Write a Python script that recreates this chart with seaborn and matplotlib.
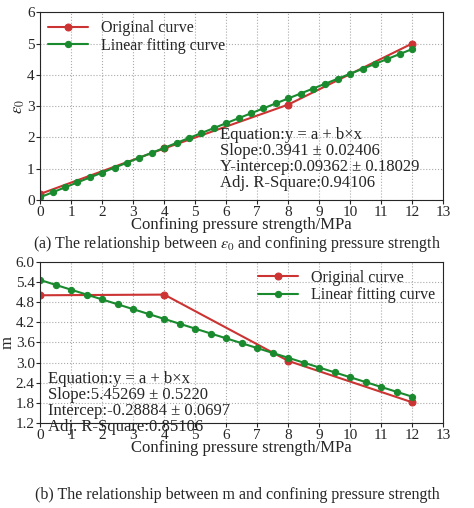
import matplotlib
matplotlib.use("Agg")
import matplotlib.pyplot as plt
import seaborn as sns
import pandas as pd

sns.set_style("ticks")
plt.rcParams['font.family'] = ['Liberation Serif', 'DejaVu Serif']
plt.rcParams['mathtext.fontset'] = 'stix'

orig_x = [0, 4, 8, 12]
orig_eps = [0.2, 1.65, 3.05, 5.0]
orig_m = [5.0, 5.02, 3.05, 1.82]

fit1_x = [0,0.4,0.8,1.2,1.6,2.0,2.4,2.8,3.2,3.6,4.0,4.4,4.8,5.2,5.6,6.0,6.4,6.8,7.2,7.6,8.0,8.4,8.8,9.2,9.6,10.0,10.4,10.8,11.2,11.6,12.0]
fit1_y = [0.094,0.251,0.409,0.567,0.724,0.882,1.040,1.197,1.355,1.512,1.670,1.828,1.985,2.143,2.300,2.458,2.616,2.773,2.931,3.089,3.246,3.404,3.562,3.719,3.877,4.035,4.192,4.350,4.507,4.665,4.823]
fit2_x = [0,0.5,1,1.5,2,2.5,3,3.5,4,4.5,5,5.5,6,6.5,7,7.5,8,8.5,9,9.5,10,10.5,11,11.5,12]
fit2_y = [5.453,5.308,5.164,5.019,4.875,4.731,4.586,4.442,4.297,4.153,4.008,3.864,3.720,3.575,3.431,3.286,3.142,2.998,2.853,2.709,2.564,2.420,2.275,2.131,1.987]

RED = '#cc3333'
GREEN = '#1a8a2e'

fig = plt.figure(figsize=(4.74, 5.08), dpi=100)
ax1 = fig.add_axes([0.085, 0.606, 0.850, 0.370])
ax2 = fig.add_axes([0.085, 0.167, 0.850, 0.318])

def draw(ax, oy, fx, fy, ylim, yticks, ylabel, legloc, text, tx, ty, caption, cy):
    sns.lineplot(x=orig_x, y=oy, ax=ax, color=RED, marker='o', markersize=5, lw=1.5,
                 markeredgecolor=RED, label='Original curve')
    sns.lineplot(x=fx, y=fy, ax=ax, color=GREEN, marker='o', markersize=4.5, lw=1.5,
                 markeredgecolor=GREEN, label='Linear fitting curve')
    ax.set_xlim(0, 13)
    ax.set_ylim(*ylim)
    ax.set_xticks(range(0, 14))
    ax.set_yticks(yticks)
    ax.grid(True, linestyle=':', color='#aaaaaa', lw=0.8)
    ax.tick_params(labelsize=11, length=3, direction='out', pad=1)
    ax.set_xlabel('Confining pressure strength/MPa', fontsize=12, labelpad=-1)
    ax.set_ylabel(ylabel, fontsize=12, labelpad=0)
    ax.legend(loc=legloc, fontsize=11.5, frameon=False, handlelength=2.5,
              borderaxespad=0.1, labelspacing=0.1)
    ax.text(tx, ty, text, transform=ax.transAxes, fontsize=12, va='top', linespacing=1.0)
    fig.text(0.5, cy, caption, ha='center', fontsize=11.5)

draw(ax1, orig_eps, fit1_x, fit1_y, (0, 6), [0,1,2,3,4,5,6], r'$\epsilon_0$', 'upper left',
     'Equation:y = a + b×x\nSlope:0.3941 ± 0.02406\nY-intercep:0.09362 ± 0.18029\nAdj. R-Square:0.94106',
     0.445, 0.39, r'(a) The relationship between $\epsilon_0$ and confining pressure strength', 0.512)
draw(ax2, orig_m, fit2_x, fit2_y, (1.2, 6.0), [1.2,1.8,2.4,3.0,3.6,4.2,4.8,5.4,6.0], 'm', 'upper right',
     'Equation:y = a + b×x\nSlope:5.45269 ± 0.5220\nIntercep:-0.28884 ± 0.0697\nAdj. R-Square:0.85106',
     0.02, 0.32, '(b) The relationship between m and confining pressure strength', 0.018)
ax2.set_yticklabels(['1.2','1.8','2.4','3.0','3.6','4.2','4.8','5.4','6.0'])
fig.savefig('out.png', dpi=100)
